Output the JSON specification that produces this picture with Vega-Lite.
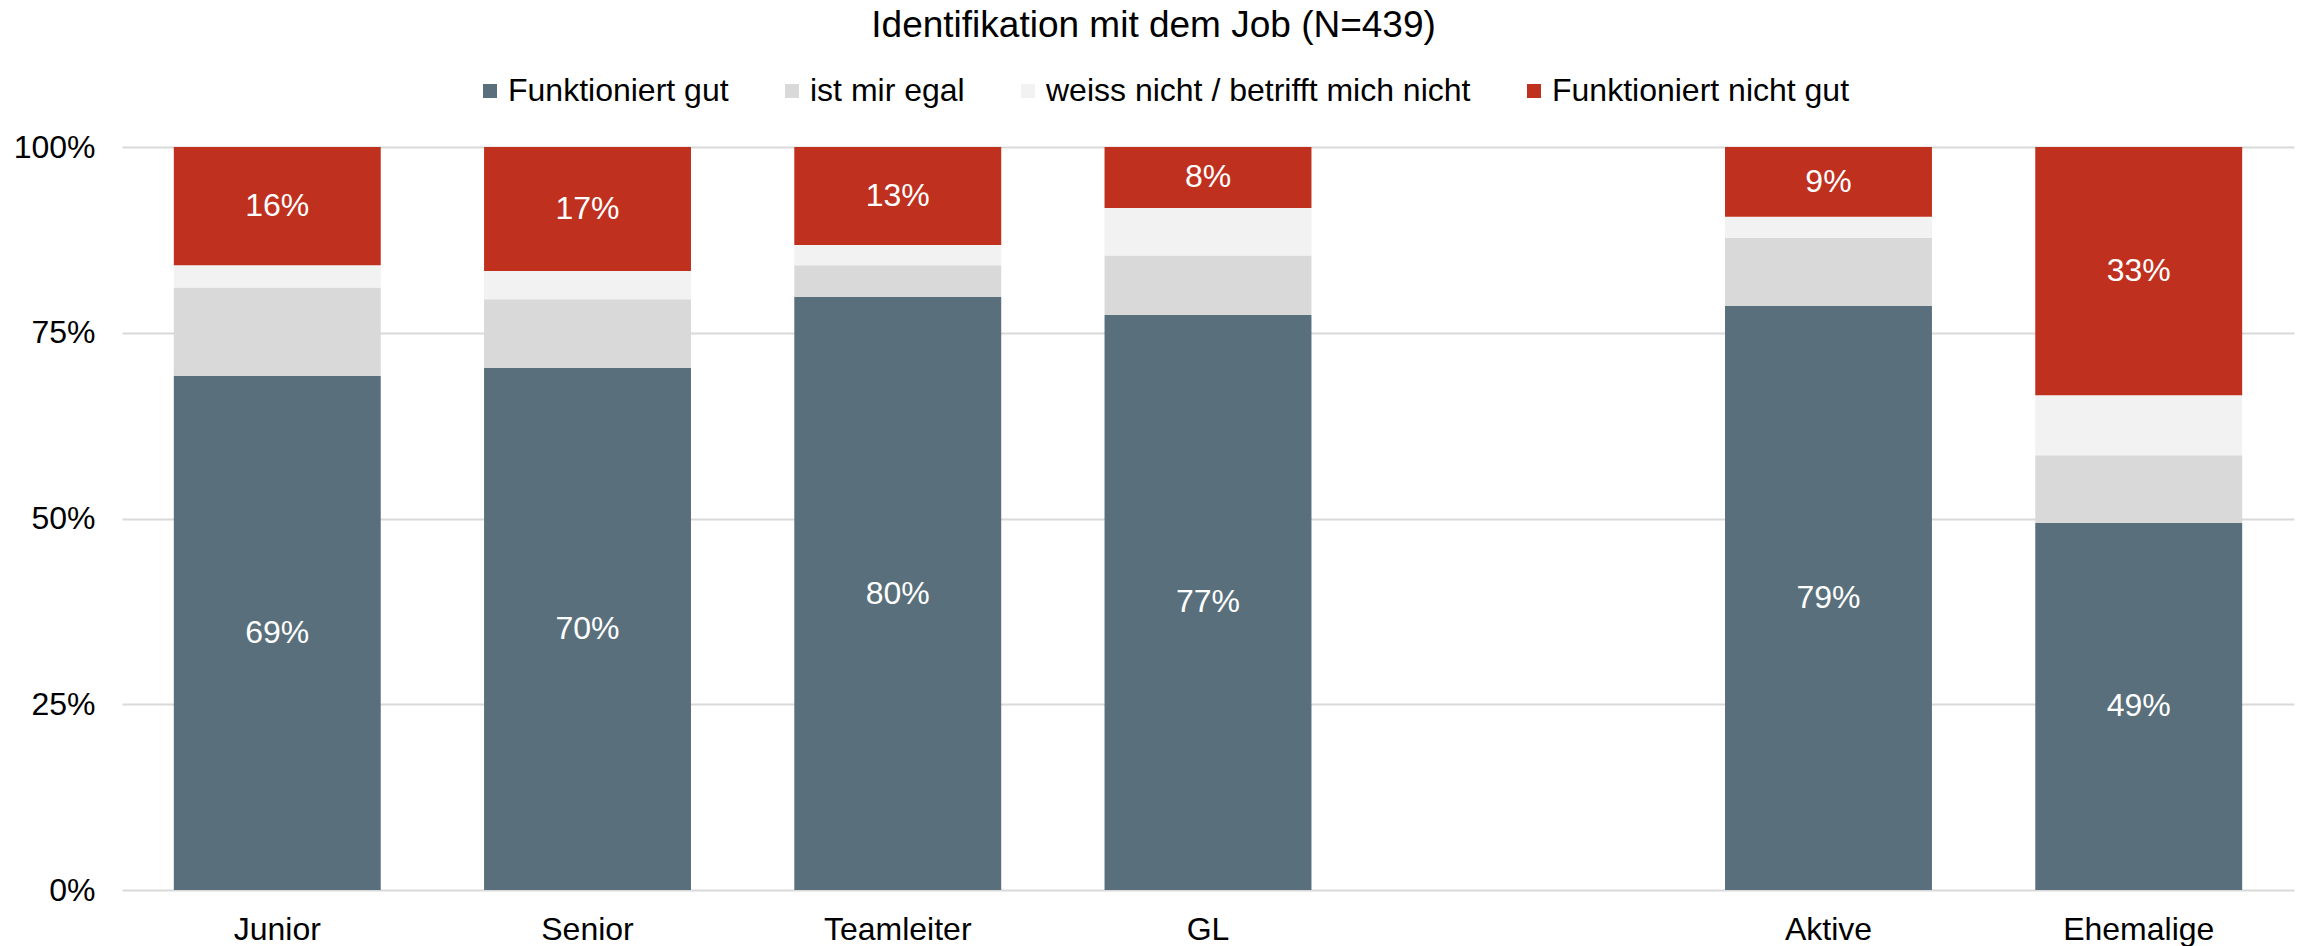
{
  "$schema": "https://vega.github.io/schema/vega-lite/v6.json",
  "width": 2172,
  "height": 743,
  "autosize": {"type": "none"},
  "padding": {"left": 122, "top": 147, "right": 9, "bottom": 56},
  "background": "white",
  "title": {
    "text": "Identifikation mit dem Job (N=439)",
    "font": "Liberation Sans",
    "fontSize": 37,
    "fontWeight": "normal",
    "color": "#000000",
    "anchor": "middle",
    "frame": "bounds",
    "offset": 30
  },
  "config": {
    "view": {"stroke": null},
    "font": "Liberation Sans"
  },
  "data": {
    "values": [
      {"group": "Junior", "seg": "Funktioniert gut", "rank": 1, "value": 0.692},
      {"group": "Junior", "seg": "ist mir egal", "rank": 2, "value": 0.119},
      {"group": "Junior", "seg": "weiss nicht / betrifft mich nicht", "rank": 3, "value": 0.030},
      {"group": "Junior", "seg": "Funktioniert nicht gut", "rank": 4, "value": 0.159},
      {"group": "Senior", "seg": "Funktioniert gut", "rank": 1, "value": 0.703},
      {"group": "Senior", "seg": "ist mir egal", "rank": 2, "value": 0.092},
      {"group": "Senior", "seg": "weiss nicht / betrifft mich nicht", "rank": 3, "value": 0.038},
      {"group": "Senior", "seg": "Funktioniert nicht gut", "rank": 4, "value": 0.167},
      {"group": "Teamleiter", "seg": "Funktioniert gut", "rank": 1, "value": 0.798},
      {"group": "Teamleiter", "seg": "ist mir egal", "rank": 2, "value": 0.043},
      {"group": "Teamleiter", "seg": "weiss nicht / betrifft mich nicht", "rank": 3, "value": 0.027},
      {"group": "Teamleiter", "seg": "Funktioniert nicht gut", "rank": 4, "value": 0.132},
      {"group": "GL", "seg": "Funktioniert gut", "rank": 1, "value": 0.774},
      {"group": "GL", "seg": "ist mir egal", "rank": 2, "value": 0.080},
      {"group": "GL", "seg": "weiss nicht / betrifft mich nicht", "rank": 3, "value": 0.064},
      {"group": "GL", "seg": "Funktioniert nicht gut", "rank": 4, "value": 0.082},
      {"group": "Aktive", "seg": "Funktioniert gut", "rank": 1, "value": 0.786},
      {"group": "Aktive", "seg": "ist mir egal", "rank": 2, "value": 0.092},
      {"group": "Aktive", "seg": "weiss nicht / betrifft mich nicht", "rank": 3, "value": 0.028},
      {"group": "Aktive", "seg": "Funktioniert nicht gut", "rank": 4, "value": 0.094},
      {"group": "Ehemalige", "seg": "Funktioniert gut", "rank": 1, "value": 0.494},
      {"group": "Ehemalige", "seg": "ist mir egal", "rank": 2, "value": 0.091},
      {"group": "Ehemalige", "seg": "weiss nicht / betrifft mich nicht", "rank": 3, "value": 0.081},
      {"group": "Ehemalige", "seg": "Funktioniert nicht gut", "rank": 4, "value": 0.334}
    ]
  },
  "transform": [
    {"stack": "value", "groupby": ["group"], "sort": [{"field": "rank", "order": "ascending"}], "as": ["y0", "y1"]},
    {"calculate": "(datum.y0 + datum.y1) / 2", "as": "ymid"}
  ],
  "encoding": {
    "x": {
      "field": "group",
      "type": "nominal",
      "scale": {
        "domain": ["Junior", "Senior", "Teamleiter", "GL", " ", "Aktive", "Ehemalige"],
        "paddingInner": 0.333,
        "paddingOuter": 0.167
      },
      "axis": {
        "title": null,
        "labelAngle": 0,
        "labelFontSize": 32,
        "labelColor": "#000000",
        "labelFont": "Liberation Sans",
        "labelPadding": 24,
        "ticks": false,
        "domain": false,
        "grid": false
      }
    }
  },
  "layer": [
    {
      "mark": {"type": "bar"},
      "encoding": {
        "y": {
          "field": "y0",
          "type": "quantitative",
          "scale": {"domain": [0, 1], "nice": false},
          "axis": {
            "title": null,
            "values": [0, 0.25, 0.5, 0.75, 1],
            "format": ".0%",
            "labelFontSize": 32,
            "labelColor": "#000000",
            "labelFont": "Liberation Sans",
            "labelPadding": 27,
            "ticks": false,
            "domain": false,
            "grid": true,
            "gridColor": "#d9d9d9",
            "gridWidth": 2
          }
        },
        "y2": {"field": "y1"},
        "color": {
          "field": "seg",
          "type": "nominal",
          "scale": {
            "domain": ["Funktioniert gut", "ist mir egal", "weiss nicht / betrifft mich nicht", "Funktioniert nicht gut"],
            "range": ["#59707c", "#d9d9d9", "#f2f2f2", "#c0301f"]
          },
          "legend": {
            "title": null,
            "orient": "none",
            "direction": "horizontal",
            "legendX": 352,
            "legendY": -72,
            "columns": 4,
            "columnPadding": 47,
            "labelFontSize": 32,
            "labelFont": "Liberation Sans",
            "labelColor": "#000000",
            "labelLimit": 1000,
            "labelOffset": 2,
            "symbolType": "square",
            "symbolSize": 196,
            "symbolStrokeWidth": 0
          }
        }
      }
    },
    {
      "transform": [{"filter": "datum.rank == 1 || datum.rank == 4"}],
      "mark": {"type": "text", "color": "white", "fontSize": 32, "font": "Liberation Sans", "baseline": "middle", "align": "center"},
      "encoding": {
        "y": {"field": "ymid", "type": "quantitative"},
        "text": {"field": "value", "type": "quantitative", "format": ".0%"}
      }
    }
  ]
}
